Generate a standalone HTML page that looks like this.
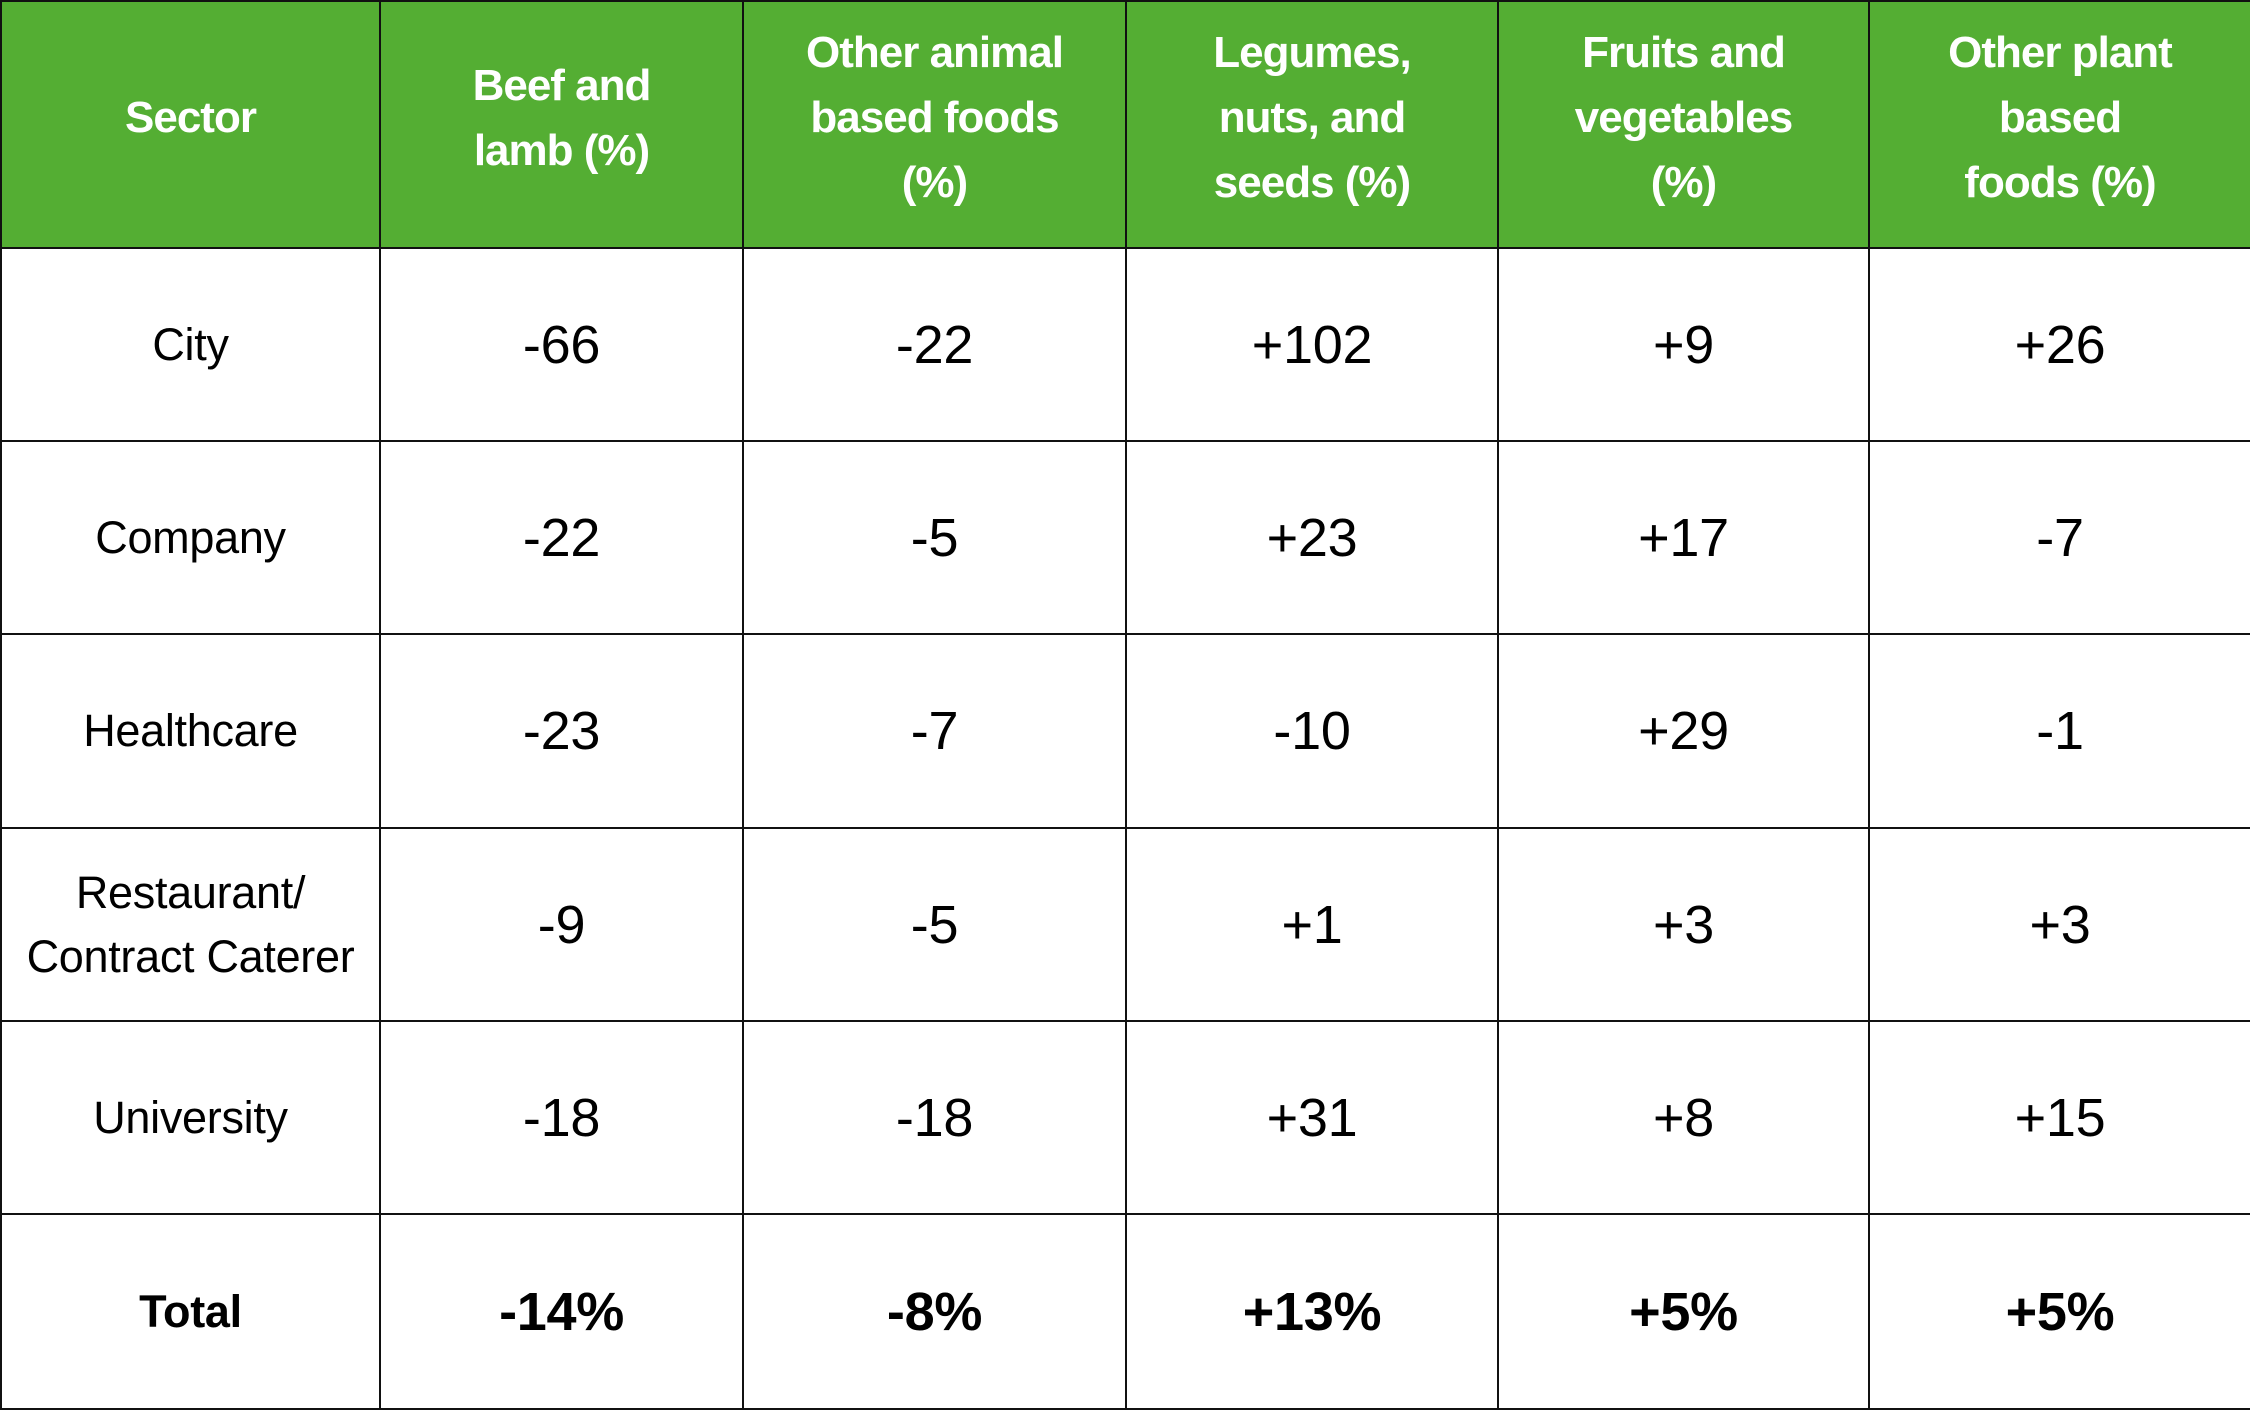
<!DOCTYPE html>
<html><head><meta charset="utf-8"><style>
html,body{margin:0;padding:0;background:#fff;}
table{border-collapse:collapse;width:2250px;height:1407px;table-layout:fixed;font-family:"Liberation Sans",sans-serif;}
td,th{border:2px solid #111;text-align:center;vertical-align:middle;padding:0;}
th{background:#54ae33;color:#fff;font-weight:bold;font-size:44px;line-height:65px;height:231px;padding-bottom:14px;letter-spacing:-1px;}
td{font-size:45px;color:#000;letter-spacing:-0.3px;line-height:64px;}
td.v{font-size:54px;}
tr.t td{font-weight:bold;}
</style></head><body>
<table>
<colgroup><col style="width:379px"><col style="width:363px"><col style="width:383px"><col style="width:372px"><col style="width:371px"><col style="width:382px"></colgroup>
<tr><th>Sector</th><th>Beef and<br>lamb (%)</th><th>Other animal<br>based foods<br>(%)</th><th>Legumes,<br>nuts, and<br>seeds (%)</th><th>Fruits and<br>vegetables<br>(%)</th><th>Other plant<br>based<br>foods (%)</th></tr>
<tr style="height:193px"><td>City</td><td class="v">-66</td><td class="v">-22</td><td class="v">+102</td><td class="v">+9</td><td class="v">+26</td></tr>
<tr style="height:193px"><td>Company</td><td class="v">-22</td><td class="v">-5</td><td class="v">+23</td><td class="v">+17</td><td class="v">-7</td></tr>
<tr style="height:194px"><td>Healthcare</td><td class="v">-23</td><td class="v">-7</td><td class="v">-10</td><td class="v">+29</td><td class="v">-1</td></tr>
<tr style="height:193px"><td>Restaurant/<br>Contract Caterer</td><td class="v">-9</td><td class="v">-5</td><td class="v">+1</td><td class="v">+3</td><td class="v">+3</td></tr>
<tr style="height:193px"><td>University</td><td class="v">-18</td><td class="v">-18</td><td class="v">+31</td><td class="v">+8</td><td class="v">+15</td></tr>
<tr class="t" style="height:195px"><td>Total</td><td class="v">-14%</td><td class="v">-8%</td><td class="v">+13%</td><td class="v">+5%</td><td class="v">+5%</td></tr>
</table>
</body></html>
